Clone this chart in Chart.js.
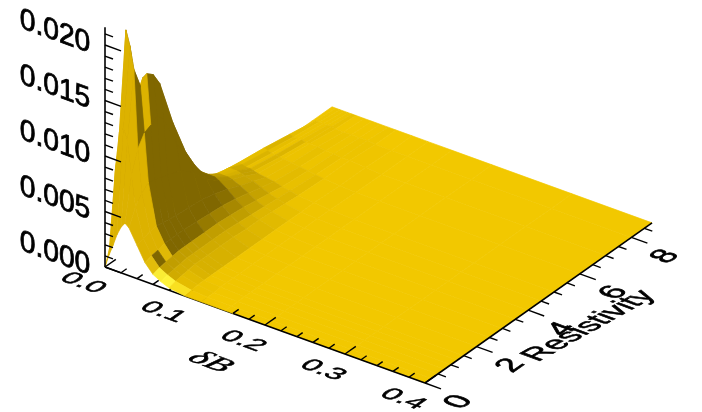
<!DOCTYPE html>
<html>
<head>
<meta charset="utf-8">
<style>
  html, body { margin: 0; padding: 0; background: #fff; }
  canvas { display: block; filter: blur(0.45px); }
</style>
<script src="https://cdn.jsdelivr.net/npm/chart.js@4"></script>
</head>
<body>
<canvas id="surface-chart" width="702" height="412"></canvas>
<script>
// Axis grid of the surface
const deltaB = [0, 0.005, 0.01, 0.015, 0.02, 0.025, 0.03, 0.04, 0.05, 0.06, 0.07, 0.08, 0.1, 0.12, 0.15, 0.2, 0.3, 0.4];
const resistivity = [0, 0.25, 0.5, 0.75, 1, 1.25, 1.5, 2, 2.5, 3, 3.5, 4, 4.5, 5, 6, 7, 8, 8.8];

// Heights, one list per resistivity value
const heightR0 = [0, 0.0012, 0.0022, 0.0033, 0.0041, 0.0046, 0.0043, 0.003, 0.0017, 0.0009, 0.0005, 0.0002, 0, 0, 0, 0, 0, 0];
const heightR025 = [0.002, 0.0085, 0.012, 0.0125, 0.0115, 0.0085, 0.0058, 0.0032, 0.0019, 0.0011, 0.0007, 0.0004, 0.0001, 0, 0, 0, 0, 0];
const heightR05 = [0.006, 0.012, 0.0208, 0.0195, 0.0175, 0.0105, 0.0066, 0.0034, 0.002, 0.0012, 0.0008, 0.0005, 0.0002, 0, 0, 0, 0, 0];
const heightR075 = [0.006, 0.008, 0.0135, 0.0145, 0.0156, 0.0115, 0.0072, 0.0035, 0.0022, 0.0013, 0.0009, 0.0006, 0.0002, 0.0001, 0, 0, 0, 0];
const heightR1 = [0.005, 0.0055, 0.0135, 0.0158, 0.0163, 0.0118, 0.007, 0.0034, 0.0022, 0.0014, 0.001, 0.0007, 0.0002, 0.0001, 0, 0, 0, 0];
const heightR125 = [0.004, 0.005, 0.012, 0.015, 0.0158, 0.0122, 0.0068, 0.0033, 0.0022, 0.0014, 0.001, 0.0007, 0.0002, 0.0001, 0, 0, 0, 0];
const heightR15 = [0.003, 0.0042, 0.0105, 0.0135, 0.0146, 0.0115, 0.0066, 0.0032, 0.0022, 0.0014, 0.001, 0.0007, 0.0002, 0.0001, 0, 0, 0, 0];
const heightR2 = [0.002, 0.003, 0.0075, 0.0098, 0.0103, 0.0085, 0.0062, 0.0031, 0.0021, 0.0014, 0.001, 0.0007, 0.0002, 0.0001, 0, 0, 0, 0];
const heightR25 = [0.001, 0.0022, 0.005, 0.0065, 0.0068, 0.0062, 0.0052, 0.003, 0.002, 0.0014, 0.001, 0.0007, 0.0002, 0.0001, 0, 0, 0, 0];
const heightR3 = [0.0005, 0.0018, 0.0035, 0.0042, 0.0043, 0.0042, 0.0038, 0.0027, 0.0019, 0.0013, 0.0009, 0.0006, 0.0002, 0.0001, 0, 0, 0, 0];
const heightR35 = [0, 0.0016, 0.0027, 0.003, 0.003, 0.003, 0.0028, 0.0023, 0.0017, 0.0012, 0.0008, 0.0006, 0.0002, 0.0001, 0, 0, 0, 0];
const heightR4 = [0, 0.0015, 0.0021, 0.0022, 0.0022, 0.0022, 0.0021, 0.0018, 0.0014, 0.001, 0.0007, 0.0005, 0.0002, 0.0001, 0, 0, 0, 0];
const heightR45 = [0, 0.0015, 0.0018, 0.0018, 0.0018, 0.0017, 0.0016, 0.0014, 0.0011, 0.0008, 0.0006, 0.0004, 0.0002, 0.0001, 0, 0, 0, 0];
const heightR5 = [0, 0.0013, 0.0013, 0.0012, 0.0012, 0.0011, 0.001, 0.0009, 0.0008, 0.0006, 0.0005, 0.0003, 0.0002, 0.0001, 0, 0, 0, 0];
const heightR6 = [0, 0.001, 0.0009, 0.0008, 0.0008, 0.0007, 0.0007, 0.0006, 0.0005, 0.0004, 0.0003, 0.0002, 0.0001, 0, 0, 0, 0, 0];
const heightR7 = [0, 0.0006, 0.0005, 0.0005, 0.0005, 0.0004, 0.0004, 0.0004, 0.0003, 0.0003, 0.0002, 0.0002, 0.0001, 0, 0, 0, 0, 0];
const heightR8 = [0, 0.0002, 0.0002, 0.0002, 0.0002, 0.0002, 0.0001, 0.0001, 0.0001, 0.0001, 0.0001, 0, 0, 0, 0, 0, 0, 0];
const heightR88 = [0, 0, 0, 0, 0, 0, 0, 0, 0, 0, 0, 0, 0, 0, 0, 0, 0, 0];
const heights = [heightR0, heightR025, heightR05, heightR075, heightR1, heightR125, heightR15, heightR2, heightR25,
  heightR3, heightR35, heightR4, heightR45, heightR5, heightR6, heightR7, heightR8, heightR88];

// Tick labels
const zTickLabels = ['0.000', '0.005', '0.010', '0.015', '0.020'];
const zTickValues = [0, 0.005, 0.01, 0.015, 0.02];
const xTickLabels = ['0.0', '0.1', '0.2', '0.3', '0.4'];
const xTickValues = [0, 0.1, 0.2, 0.3, 0.4];
const rTickLabels = ['0', '2', '4', '6', '8'];
const rTickValues = [0, 2, 4, 6, 8];

const zTop = 0.0216;
const xMax = 0.4;
const rMax = 8.8;

// Parallel projection of the box onto the page
function project(d, r, z) {
  return {
    x: 105 + 800 * d + 25.8 * r,
    y: 267 + 290 * d - 18.2 * r - 11100 * z
  };
}

function mix(a, b, t) {
  return a.map((v, i) => Math.round(v + (b[i] - v) * t));
}

const darkColor = [128, 103, 0];
const midColor = [220, 178, 0];
const flatColor = [242, 200, 0];
const brightColor = [255, 245, 60];

// Facets rising with resistivity catch the light, the others fall into shadow
function facetColor(i, j) {
  const du = (deltaB[j + 1] - deltaB[j]) * 850;
  const dv = (resistivity[i + 1] - resistivity[i]) * 31.6;
  const a = heights[i][j] * 11100, b = heights[i][j + 1] * 11100;
  const c = heights[i + 1][j] * 11100, e = heights[i + 1][j + 1] * 11100;
  const sx = ((b - a) + (e - c)) / 2 / du;
  const sy = ((c - a) + (e - b)) / 2 / dv;
  const slope = Math.sqrt(sx * sx + sy * sy);
  let col;
  if (sy > 0.2) {
    if (slope < 0.5) col = mix(flatColor, brightColor, slope / 0.5);
    else col = mix(brightColor, midColor, Math.min(1, (slope - 0.5) / 0.7));
  } else {
    const fall = Math.hypot(Math.max(0, -sx), Math.max(0, -sy));
    col = mix(flatColor, darkColor, Math.pow(Math.min(1, fall), 1.3));
  }
  return `rgb(${col[0]}, ${col[1]}, ${col[2]})`;
}

const datasets = [];
let drawOrder = 100000;

function addLine(points, width) {
  datasets.push({
    data: points,
    showLine: true,
    borderColor: '#000',
    borderWidth: width,
    pointRadius: 0,
    fill: false,
    order: drawOrder--
  });
}

function addXTick(d) {
  const isMajor = Math.abs(d * 10 - Math.round(d * 10)) < 1e-6;
  addLine([project(d, 0, 0), project(d, isMajor ? 0.42 : 0.22, 0)], 1.4);
}

// Ticks in the hidden part of the front edge go under the surface
const xMinorStep = 0.02;
for (let k = 0; k * xMinorStep < 0.16; k++) addXTick(k * xMinorStep);
addLine([project(0, 0, 0), project(0.16, 0, 0)], 1.6);

// Surface, far facets first
for (let i = resistivity.length - 2; i >= 0; i--) {
  for (let j = 0; j < deltaB.length - 1; j++) {
    const color = facetColor(i, j);
    const corners = [
      project(deltaB[j], resistivity[i], heights[i][j]),
      project(deltaB[j + 1], resistivity[i], heights[i][j + 1]),
      project(deltaB[j + 1], resistivity[i + 1], heights[i + 1][j + 1]),
      project(deltaB[j], resistivity[i + 1], heights[i + 1][j])
    ];
    corners.push(corners[0]);
    datasets.push({
      data: corners,
      showLine: true,
      borderColor: color,
      backgroundColor: color,
      borderWidth: 0.7,
      pointRadius: 0,
      fill: 'shape',
      order: drawOrder--
    });
  }
}

// Axes and the ticks that sit on top of the surface
for (let k = 8; k * xMinorStep <= xMax + 1e-9; k++) addXTick(k * xMinorStep);
addLine([project(0.16, 0, 0), project(xMax, 0, 0)], 1.6);
addLine([project(xMax, 0, 0), project(xMax, rMax, 0)], 1.6);
addLine([project(0, 0, 0), project(0, 0, zTop)], 1.6);

for (let k = 0; k * 0.001 <= zTop; k++) {
  const isMajor = k % 5 === 0;
  addLine([project(0, 0, k * 0.001), project(isMajor ? 0.02 : 0.01, 0, k * 0.001)], 1.4);
}
for (let k = 0; k * 0.5 <= rMax; k++) {
  const isMajor = k % 4 === 0;
  addLine([project(xMax, k * 0.5, 0), project(xMax + (isMajor ? 0.02 : 0.01), k * 0.5, 0)], 1.4);
}

// Text lies in the planes of the box, so each label gets its own affine transform
const textPlugin = {
  id: 'boxText',
  afterDraw(chart) {
    const ctx = chart.ctx;
    const sx = chart.scales.x, sy = chart.scales.y;

    function put(text, p, dx, dy, base, up, font) {
      const px = sx.getPixelForValue(p.x) + dx;
      const py = sy.getPixelForValue(p.y) + dy;
      ctx.save();
      ctx.setTransform(base[0], base[1], -up[0], -up[1], px, py);
      ctx.font = font;
      ctx.fillStyle = '#000';
      ctx.strokeStyle = '#000';
      ctx.lineWidth = 0.8;
      ctx.textAlign = 'center';
      ctx.textBaseline = 'middle';
      ctx.fillText(text, 0, 0);
      ctx.strokeText(text, 0, 0);
      ctx.restore();
    }

    const sans = '30px "Liberation Sans"';
    const along = [0.94, 0.34];
    const floorUp = [0.62, -0.43];
    const sideBase = [0.82, -0.57];
    const sideUp = [-0.99, -0.36];
    zTickValues.forEach((v, i) => {
      put(zTickLabels[i], project(0, 0, v), -50, -13, along, [0, -1], sans);
    });
    xTickValues.forEach((v, i) => {
      put(xTickLabels[i], project(v, 0, 0), -22, 16, along, floorUp, sans);
    });
    rTickValues.forEach((v, i) => {
      put(rTickLabels[i], project(xMax, v, 0), 34, 19, sideBase, sideUp, sans);
    });
    put('δB', project(0.2, 0, 0), -55, 37, along, floorUp, 'italic 36px "Liberation Serif"');
    put('Resistivity', project(xMax, 3.8, 0), 66, 12, [0.88, -0.49], sideUp, sans);
  }
};

new Chart(document.getElementById('surface-chart').getContext('2d'), {
  type: 'scatter',
  data: { datasets: datasets },
  plugins: [textPlugin],
  options: {
    responsive: false,
    animation: false,
    events: [],
    layout: { padding: 0 },
    plugins: {
      legend: { display: false },
      tooltip: { enabled: false }
    },
    scales: {
      x: { type: 'linear', min: 0, max: 702, display: false },
      y: { type: 'linear', min: 0, max: 412, reverse: true, display: false }
    }
  }
});
</script>
</body>
</html>
